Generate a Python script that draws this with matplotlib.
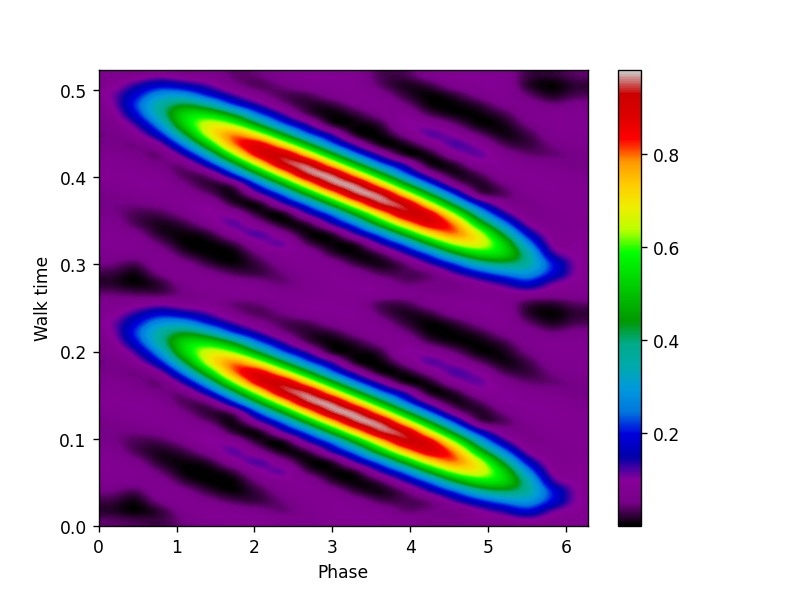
import matplotlib
matplotlib.use('Agg')
import matplotlib.pyplot as plt
import numpy as np

# amplitude, one list per phase column, top row first
# the picture repeats the same band twice in walk time
band_columns = [
    [.07, .08, .10, .09, .075, .06, .05, .055, .07, .08, .085, .075, .06, .05, .055, .07, .08, .08, .07, .05, .025, .015, .04],
    [.075, .13, .185, .22, .185, .12, .08, .045, .055, .07, .085, .085, .07, .05, .03, .03, .06, .08, .07, .03, .005, 0, .03],
    [.09, .18, .285, .365, .365, .285, .185, .09, .04, .05, .07, .085, .08, .06, .03, .01, .012, .04, .07, .08, .055, .02, .025],
    [.07, .15, .285, .435, .545, .535, .42, .27, .14, .05, .03, .05, .075, .085, .06, .025, .005, 0, .02, .06, .08, .065, .05],
    [.07, .11, .19, .36, .55, .68, .68, .53, .34, .18, .05, .015, .04, .09, .105, .07, .02, 0, 0, .02, .06, .085, .07],
    [.04, .055, .115, .215, .43, .63, .805, .805, .63, .40, .21, .04, 0, .015, .085, .125, .085, .025, 0, .002, .03, .075, .08],
    [.045, .03, .06, .125, .245, .44, .68, .89, .89, .68, .44, .23, .10, 0, .012, .065, .13, .09, .05, .025, .022, .06, .085],
    [.075, .05, .03, .05, .125, .24, .455, .71, .935, .935, .71, .455, .24, .115, 0, .004, .065, .12, .085, .065, .045, .04, .07],
    [.085, .08, .03, .015, .03, .125, .245, .47, .73, .96, .96, .73, .47, .245, .12, .015, 0, .03, .085, .085, .075, .065, .065],
    [.085, .085, .065, .02, 0, .01, .125, .245, .47, .735, .965, .965, .735, .47, .245, .13, .012, 0, .02, .07, .085, .085, .08],
    [.075, .085, .085, .06, .02, .002, .002, .10, .245, .47, .735, .965, .965, .735, .47, .265, .13, .015, 0, .02, .07, .085, .085],
    [.03, .035, .065, .085, .06, .02, .002, 0, .10, .245, .47, .73, .96, .96, .73, .50, .265, .13, .03, .005, .03, .075, .085],
    [.03, .01, .02, .05, .085, .105, .06, .008, 0, .12, .24, .455, .71, .935, .935, .74, .485, .255, .125, .04, .03, .04, .075],
    [.07, .025, 0, .002, .03, .09, .125, .065, .008, 0, .08, .23, .44, .68, .89, .895, .71, .465, .245, .125, .04, .05, .06],
    [.085, .07, .02, .002, .005, .045, .095, .13, .085, .015, .005, .06, .21, .40, .63, .80, .815, .655, .43, .225, .115, .05, .06],
    [.085, .085, .06, .02, .002, .002, .04, .095, .12, .085, .03, .01, .03, .175, .34, .51, .675, .69, .555, .36, .19, .09, .07],
    [.075, .085, .085, .06, .025, .007, .005, .03, .07, .09, .085, .05, .03, .07, .14, .27, .42, .535, .545, .415, .26, .135, .075],
    [.025, .015, .04, .07, .07, .05, .025, .02, .04, .07, .085, .085, .07, .055, .06, .09, .17, .275, .365, .37, .295, .195, .09],
    [.02, 0, .01, .045, .08, .08, .07, .05, .04, .06, .08, .085, .085, .08, .07, .07, .075, .085, .125, .205, .195, .11, .075],
    [.04, .02, .03, .06, .075, .08, .075, .07, .055, .05, .065, .08, .08, .08, .08, .075, .08, .085, .09, .095, .095, .085, .075],
]
max_phase = 2 * np.pi
max_walk = 0.523
walk_ticks = [0.0, 0.1, 0.2, 0.3, 0.4, 0.5]
bar_ticks = [0.2, 0.4, 0.6, 0.8]

band = np.array(band_columns).T
field = np.vstack([band, band])

fig, ax = plt.subplots(figsize=(6.4, 4.8), dpi=123.3)
im = ax.imshow(field, cmap='nipy_spectral', vmin=0, vmax=0.98, aspect='auto',
               interpolation='mitchell', extent=[0, max_phase, 0, max_walk])
ax.set_yticks(walk_ticks)
ax.set_xlabel('Phase')
ax.set_ylabel('Walk time')
cb = fig.colorbar(im, ax=ax)
cb.set_ticks(bar_ticks)

plt.savefig('out.png')
